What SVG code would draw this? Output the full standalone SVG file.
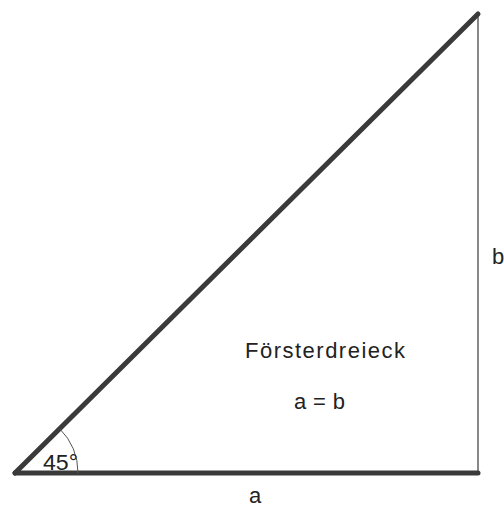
<svg xmlns="http://www.w3.org/2000/svg" width="504" height="509" viewBox="0 0 504 509">
<style>
.t{font-family:"Liberation Sans",Arial,sans-serif;font-size:22px;fill:#222}
</style>
<rect width="504" height="509" fill="#fff"/>
<g id="edges">
<line x1="478" y1="14" x2="478" y2="473" stroke="#888" stroke-width="2"/>
<line x1="15" y1="473" x2="478" y2="473" stroke="#3a3a3a" stroke-width="5" stroke-linecap="round"/>
<line x1="15" y1="473" x2="478" y2="14" stroke="#3a3a3a" stroke-width="5" stroke-linecap="round"/>
<path d="M78 473 A63 63 0 0 0 59.5 428.5" fill="none" stroke="#555" stroke-width="1"/>
</g>
<g id="labels">
<text class="t" x="43" y="470" textLength="35" lengthAdjust="spacingAndGlyphs">45°</text>
<text class="t" x="492" y="264">b</text>
<text class="t" x="249" y="503">a</text>
<text class="t" x="245" y="358" textLength="160">Försterdreieck</text>
<text class="t" x="294" y="409" textLength="51">a = b</text>
</g>
</svg>
